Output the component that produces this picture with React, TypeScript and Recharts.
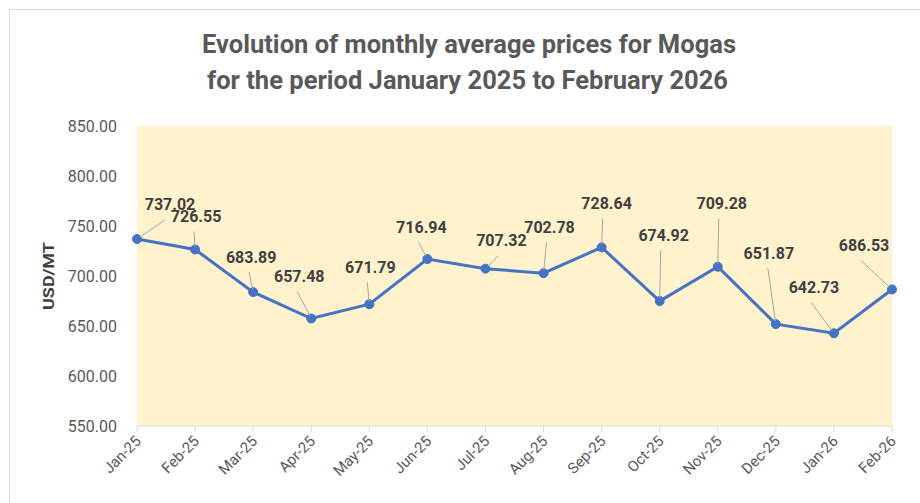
import React from "react";
import { LineChart, Line, XAxis, YAxis, CartesianGrid, LabelList } from "recharts";

const months = ["Jan-25", "Feb-25", "Mar-25", "Apr-25", "May-25", "Jun-25", "Jul-25", "Aug-25", "Sep-25", "Oct-25", "Nov-25", "Dec-25", "Jan-26", "Feb-26"];
const prices = [737.02, 726.55, 683.89, 657.48, 671.79, 716.94, 707.32, 702.78, 728.64, 674.92, 709.28, 651.87, 642.73, 686.53];
const yTicks = [550, 600, 650, 700, 750, 800, 850];

// label placement (text centre relative to point) and leader-line top x offset
const labelDx = [33, 1, -2, -12, 1, -6, 16, 6, 5, 4, 4, -7, -20, -28];
const labelDy = [-34, -33, -35, -42, -37, -32, -28, -46, -44, -66, -63, -71, -46, -44];
const leaderDx = [28, -1, -4, -14, -2, -9, 13, 3, 1, 1, 1, -8, -23, -31];

const data = months.map((m, i) => ({ month: m, price: prices[i] }));

const FONT = "Roboto, 'DejaVu Sans', sans-serif";

const XTick = (props: any) => {
  const { x, y, payload } = props;
  const px = x + 5;
  const py = y + 8;
  return (
    <text x={px} y={py} transform={`rotate(-45, ${px}, ${py})`} textAnchor="end" fill="#595959" fontSize={15} fontFamily={FONT}>
      {payload.value}
    </text>
  );
};

const DataLabel = (props: any) => {
  const { x, y, index, value } = props;
  if (x == null || y == null) return null;
  const tx = x + labelDx[index];
  const ty = y + labelDy[index];
  const lx = x + leaderDx[index];
  const ly = ty + 15;
  const ddx = lx - x;
  const ddy = ly - y;
  const len = Math.sqrt(ddx * ddx + ddy * ddy) || 1;
  const ex = x + (ddx / len) * 3;
  const ey = y + (ddy / len) * 3;
  return (
    <g>
      <line x1={lx} y1={ly} x2={ex} y2={ey} stroke="#A6A6A6" strokeWidth={1} />
      <text x={tx} y={ty + 5.5} textAnchor="middle" fill="#404040" fontSize={16} fontWeight="bold" fontFamily={FONT}>
        {Number(value).toFixed(2)}
      </text>
    </g>
  );
};

export default function App() {
  return (
    <div style={{ position: "absolute", left: 0, top: 0, width: 920, height: 503, background: "#fff", overflow: "hidden" }}>
      <div style={{ position: "absolute", left: 9, top: 9, width: 940, height: 600, border: "1px solid #D9D9D9", boxSizing: "border-box" }} />
      <div style={{ position: "absolute", left: 0, top: 0 }}>
        <LineChart width={920} height={503} data={data} margin={{ top: 126, right: 28, bottom: 0, left: 77 }}>
          <CartesianGrid fill="#FFF2CC" stroke="none" horizontal={false} vertical={false} />
          <XAxis
            dataKey="month"
            interval={0}
            height={77}
            padding={{ left: 0, right: 0 }}
            axisLine={{ stroke: "#D9D9D9" }}
            tickLine={{ stroke: "#D9D9D9" }}
            tickSize={6}
            tick={<XTick />}
          />
          <YAxis
            width={60}
            domain={[550, 850]}
            ticks={yTicks}
            axisLine={false}
            tickLine={false}
            tickSize={0}
            tickMargin={20}
            tickFormatter={(v: number) => v.toFixed(2)}
            tick={{ fill: "#595959", fontSize: 16, fontFamily: FONT }}
          />
          <Line
            type="linear"
            dataKey="price"
            stroke="#4472C4"
            strokeWidth={3}
            dot={{ r: 4.5, fill: "#4472C4", stroke: "#4472C4", strokeWidth: 1 }}
            activeDot={false}
            isAnimationActive={false}
          >
            <LabelList dataKey="price" content={<DataLabel />} />
          </Line>
        </LineChart>
      </div>
      <svg width={920} height={503} style={{ position: "absolute", left: 0, top: 0, pointerEvents: "none" }}>
        <text x={469} y={53} textAnchor="middle" fill="#595959" fontSize={25} fontWeight="bold" fontFamily={FONT} textLength={534} lengthAdjust="spacingAndGlyphs">
          Evolution of monthly average prices for Mogas
        </text>
        <text x={467.5} y={89} textAnchor="middle" fill="#595959" fontSize={25} fontWeight="bold" fontFamily={FONT} textLength={521} lengthAdjust="spacingAndGlyphs">
          for the period January 2025 to February 2026
        </text>
        <text x={54} y={276} transform="rotate(-90, 54, 276)" textAnchor="middle" fill="#404040" fontSize={15} fontWeight="bold" fontFamily={FONT} textLength={68} lengthAdjust="spacingAndGlyphs">
          USD/MT
        </text>
      </svg>
    </div>
  );
}
